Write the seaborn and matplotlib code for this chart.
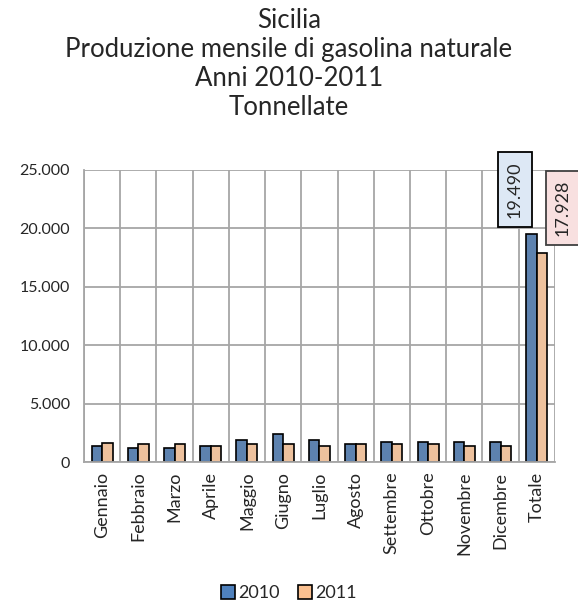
import matplotlib
matplotlib.use("Agg")
import matplotlib.pyplot as plt
import matplotlib.ticker as mticker
from matplotlib.patches import Patch
import seaborn as sns
import pandas as pd

# --- data (tonnes) ---
months = ['Gennaio', 'Febbraio', 'Marzo', 'Aprile', 'Maggio', 'Giugno',
          'Luglio', 'Agosto', 'Settembre', 'Ottobre', 'Novembre', 'Dicembre', 'Totale']
prod_2010 = [1380, 1240, 1240, 1380, 1860, 2440, 1860, 1550, 1690, 1690, 1690, 1690, 19490]
prod_2011 = [1670, 1520, 1520, 1380, 1520, 1520, 1400, 1550, 1550, 1550, 1400, 1400, 17928]
years = ['2010', '2011']
title_lines = ['Sicilia', 'Produzione mensile di gasolina naturale',
               'Anni 2010-2011', 'Tonnellate']

df = pd.DataFrame({
    'mese': months * 2,
    'anno': [years[0]] * len(months) + [years[1]] * len(months),
    'valore': prod_2010 + prod_2011,
})

colors = {'2010': '#4f81bd', '2011': '#fac090'}

sns.set_style('white')
plt.rcParams['font.family'] = ['Lato', 'DejaVu Sans']

fig = plt.figure(figsize=(5.78, 6.06), dpi=100)
ax = fig.add_axes([0.1453, 0.2376, 0.8147, 0.4819])

sns.barplot(data=df, x='mese', y='valore', hue='anno', order=months,
            palette=colors, width=0.58, edgecolor='black', linewidth=1.2,
            legend=False, ax=ax)

ax.set_ylim(0, 25000)
ax.set_xlim(-0.5, len(months) - 0.5)
ax.set_yticks(range(0, 25001, 5000))
ax.yaxis.set_major_formatter(mticker.FuncFormatter(
    lambda v, p: f"{int(v):,}".replace(',', '.')))
ax.set_xlabel('')
ax.set_ylabel('')

# gridlines: horizontal at y ticks, vertical at category borders
grid_c = '#a6a6a6'
ax.set_axisbelow(True)
ax.yaxis.grid(True, color=grid_c, linewidth=1.3)
ax.set_xticks([i + 0.5 for i in range(-1, len(months))], minor=True)
ax.xaxis.grid(True, which='minor', color=grid_c, linewidth=1.3)
ax.set_xticks(range(len(months)))
ax.set_xticklabels(months, rotation=90, fontsize=13)
ax.tick_params(axis='x', which='major', length=0, pad=7)
ax.tick_params(axis='x', which='minor', length=5, color=grid_c, width=1.3, direction='out')
ax.tick_params(axis='y', length=6, color=grid_c, width=1.3, direction='out',
               labelsize=11.5, pad=4)
for s in ['top', 'right']:
    ax.spines[s].set_visible(False)
for s in ['left', 'bottom']:
    ax.spines[s].set_color(grid_c)
    ax.spines[s].set_linewidth(1.3)

# data labels on Totale
tot = len(months) - 1
bars = ax.patches
b10 = bars[tot]
b11 = bars[len(months) + tot]
ax.annotate(f"{prod_2010[-1]:,}".replace(',', '.'),
            xy=(b10.get_x() + b10.get_width() / 2, b10.get_height()),
            xytext=(-12, 12), textcoords='offset points', rotation=90,
            ha='center', va='bottom', fontsize=13, annotation_clip=False,
            bbox=dict(boxstyle='square,pad=0.5', fc='#dde8f5', ec='black', lw=1.3))
ax.annotate(f"{prod_2011[-1]:,}".replace(',', '.'),
            xy=(b11.get_x() + b11.get_width() / 2, b11.get_height()),
            xytext=(15, 12), textcoords='offset points', rotation=90,
            ha='center', va='bottom', fontsize=13, annotation_clip=False,
            bbox=dict(boxstyle='square,pad=0.5', fc='#f8e0e0', ec='#404040', lw=1.3))

# title
for i, line in enumerate(title_lines):
    fig.text(0.5, 1 - (21 + i * 28.7) / 606, line, ha='center', va='center', fontsize=18.5)

# legend
handles = [Patch(facecolor=colors[y], edgecolor='black', linewidth=1.2, label=y) for y in years]
fig.legend(handles=handles, loc='center', bbox_to_anchor=(0.5, 0.021), ncol=2,
           frameon=False, fontsize=13, handlelength=0.75, handleheight=0.75,
           handletextpad=0.2, columnspacing=1.0)

fig.savefig('out.png', dpi=100)
